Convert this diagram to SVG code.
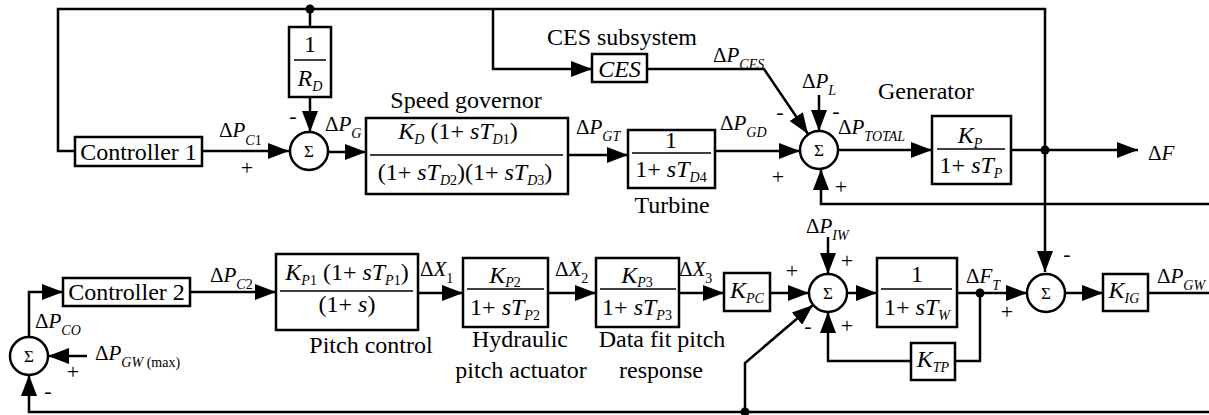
<svg xmlns="http://www.w3.org/2000/svg" width="1209" height="415" viewBox="0 0 1209 415" font-family="'Liberation Serif', 'DejaVu Serif', serif">
<style>
.ln{fill:none;stroke:#000;stroke-width:2.5}
.bx{fill:#fff;stroke:#000;stroke-width:2.5}
.fr{stroke:#000;stroke-width:1.5}
.t{font-family:'Liberation Serif','DejaVu Serif',serif;font-size:24px;fill:#000}
.lb{font-family:'Liberation Serif','DejaVu Serif',serif;font-size:21px;fill:#000}
.i{font-style:italic}
.s{font-size:14px;font-style:italic}
.sr{font-size:14px;font-style:normal}
.sg{font-family:'Liberation Serif','DejaVu Serif',serif;font-size:17px;fill:#000}
.pm{font-family:'Liberation Serif','DejaVu Serif',serif;font-size:22px;fill:#000}
</style>
<defs>
<marker id="ar" markerWidth="21" markerHeight="16" refX="21" refY="8" orient="auto" markerUnits="userSpaceOnUse"><path d="M0,0 L21,8 L0,16 z" fill="#000"/></marker>
</defs>

<g id="connectors">
<path class="ln" d="M1045,150 V9 H58 V151 H75"/>
<path class="ln" d="M1045,150 V272" marker-end="url(#ar)"/>
<path class="ln" d="M310,9 V27"/>
<path class="ln" d="M310,97 V132" marker-end="url(#ar)"/>
<path class="ln" d="M202,151 H289" marker-end="url(#ar)"/>
<path class="ln" d="M328,152 H366" marker-end="url(#ar)"/>
<path class="ln" d="M568,155 H628" marker-end="url(#ar)"/>
<path class="ln" d="M715,151 H800" marker-end="url(#ar)"/>
<path class="ln" d="M493,9 V69 H592" marker-end="url(#ar)"/>
<path class="ln" d="M647,69 H764 L808,134" marker-end="url(#ar)"/>
<path class="ln" d="M819,95 V131" marker-end="url(#ar)"/>
<path class="ln" d="M838,150 H932" marker-end="url(#ar)"/>
<path class="ln" d="M1011,150 H1138" marker-end="url(#ar)"/>
<path class="ln" d="M1209,204 H821 V169" marker-end="url(#ar)"/>
<path class="ln" d="M1065,293 H1103" marker-end="url(#ar)"/>
<path class="ln" d="M1148,293 H1209"/>
<path class="ln" d="M828,237 V274" marker-end="url(#ar)"/>
<path class="ln" d="M847,293 H877" marker-end="url(#ar)"/>
<path class="ln" d="M957,293 H1027" marker-end="url(#ar)"/>
<path class="ln" d="M980,293 V361 H955"/>
<path class="ln" d="M911,361 H828 V312" marker-end="url(#ar)"/>
<path class="ln" d="M770,293 H809" marker-end="url(#ar)"/>
<path class="ln" d="M745,412 V363 L813,305" marker-end="url(#ar)"/>
<path class="ln" d="M679,293 H724" marker-end="url(#ar)"/>
<path class="ln" d="M548,293 H596" marker-end="url(#ar)"/>
<path class="ln" d="M418,293 H463" marker-end="url(#ar)"/>
<path class="ln" d="M190,292 H276" marker-end="url(#ar)"/>
<path class="ln" d="M29,337 V292 H63" marker-end="url(#ar)"/>
<path class="ln" d="M87,356 H48" marker-end="url(#ar)"/>
<path class="ln" d="M1209,412 H29 V375" marker-end="url(#ar)"/>
<circle cx="310" cy="9" r="4.5"/>
<circle cx="1045" cy="150" r="4.5"/>
<circle cx="980" cy="293" r="4.5"/>
<circle cx="745" cy="412" r="4.5"/>
</g>

<g id="controller1">
<rect class="bx" x="75" y="137" width="127" height="29"/>
<text class="t" x="138.5" y="160" text-anchor="middle">Controller 1</text>
</g>

<g id="sum1">
<circle class="bx" cx="309" cy="151" r="19"/>
<text class="sg" x="309" y="157" text-anchor="middle">Σ</text>
</g>

<g id="rd">
<rect class="bx" x="289" y="27" width="42" height="70"/>
<line class="fr" x1="294" y1="60" x2="326" y2="60"/>
<text class="t" x="310" y="52" text-anchor="middle">1</text>
<text class="t" x="310" y="86" text-anchor="middle"><tspan class="i">R</tspan><tspan class="s" dy="5">D</tspan></text>
</g>

<g id="governor">
<text class="t" x="466" y="108" text-anchor="middle">Speed governor</text>
<rect class="bx" x="366" y="118" width="202" height="76"/>
<line class="fr" x1="370" y1="155" x2="563" y2="155"/>
<text class="t" x="458" y="139" text-anchor="middle"><tspan class="i">K</tspan><tspan class="s" dy="5">D</tspan><tspan dy="-5"> (1+ </tspan><tspan class="i">sT</tspan><tspan class="s" dy="5">D</tspan><tspan class="sr">1</tspan><tspan dy="-5">)</tspan></text>
<text class="t" x="465" y="180" text-anchor="middle">(1+ <tspan class="i">sT</tspan><tspan class="s" dy="5">D</tspan><tspan class="sr">2</tspan><tspan dy="-5">)(1+ </tspan><tspan class="i">sT</tspan><tspan class="s" dy="5">D</tspan><tspan class="sr">3</tspan><tspan dy="-5">)</tspan></text>
</g>

<g id="turbine">
<rect class="bx" x="628" y="130" width="87" height="58"/>
<line class="fr" x1="632" y1="153" x2="711" y2="153"/>
<text class="t" x="671" y="148" text-anchor="middle">1</text>
<text class="t" x="671" y="177" text-anchor="middle">1+ <tspan class="i">sT</tspan><tspan class="s" dy="5">D</tspan><tspan class="sr">4</tspan></text>
<text class="t" x="672" y="213" text-anchor="middle">Turbine</text>
</g>

<g id="ces">
<text class="t" x="622" y="45" text-anchor="middle">CES subsystem</text>
<rect class="bx" x="592" y="54" width="55" height="28"/>
<text class="t i" x="619.5" y="77" text-anchor="middle">CES</text>
</g>

<g id="sum-top">
<circle class="bx" cx="819" cy="150" r="19"/>
<text class="sg" x="819" y="156" text-anchor="middle">Σ</text>
</g>

<g id="generator">
<text class="t" x="926" y="99" text-anchor="middle">Generator</text>
<rect class="bx" x="932" y="116" width="79" height="68"/>
<line class="fr" x1="937" y1="149" x2="1005" y2="149"/>
<text class="t" x="970" y="143" text-anchor="middle"><tspan class="i">K</tspan><tspan class="s" dy="5">P</tspan></text>
<text class="t" x="971" y="173" text-anchor="middle">1+ <tspan class="i">sT</tspan><tspan class="s" dy="5">P</tspan></text>
</g>

<g id="sum2">
<circle class="bx" cx="1046" cy="293" r="19"/>
<text class="sg" x="1046" y="299" text-anchor="middle">Σ</text>
</g>

<g id="kig">
<rect class="bx" x="1103" y="274" width="45" height="37"/>
<text class="t" x="1124" y="298" text-anchor="middle"><tspan class="i">K</tspan><tspan class="s" dy="5">IG</tspan></text>
</g>

<g id="sum-w">
<circle class="bx" cx="828" cy="293" r="19"/>
<text class="sg" x="828" y="299" text-anchor="middle">Σ</text>
</g>

<g id="wind">
<rect class="bx" x="877" y="258" width="80" height="69"/>
<line class="fr" x1="881" y1="289" x2="952" y2="289"/>
<text class="t" x="917" y="282" text-anchor="middle">1</text>
<text class="t" x="917" y="315" text-anchor="middle">1+ <tspan class="i">sT</tspan><tspan class="s" dy="5">W</tspan></text>
</g>

<g id="ktp">
<rect class="bx" x="911" y="343" width="44" height="37"/>
<text class="t" x="933" y="367" text-anchor="middle"><tspan class="i">K</tspan><tspan class="s" dy="5">TP</tspan></text>
</g>

<g id="kpc">
<rect class="bx" x="724" y="273" width="46" height="38"/>
<text class="t" x="747" y="298" text-anchor="middle"><tspan class="i">K</tspan><tspan class="s" dy="5">PC</tspan></text>
</g>

<g id="datafit">
<rect class="bx" x="596" y="258" width="83" height="69"/>
<line class="fr" x1="600" y1="289" x2="676" y2="289"/>
<text class="t" x="637" y="283" text-anchor="middle"><tspan class="i">K</tspan><tspan class="s" dy="4">P</tspan><tspan class="sr">3</tspan></text>
<text class="t" x="637" y="315" text-anchor="middle">1+ <tspan class="i">sT</tspan><tspan class="s" dy="5">P</tspan><tspan class="sr">3</tspan></text>
<text class="t" x="662" y="347" text-anchor="middle">Data fit pitch</text>
<text class="t" x="661" y="378" text-anchor="middle">response</text>
</g>

<g id="hydraulic">
<rect class="bx" x="463" y="258" width="85" height="69"/>
<line class="fr" x1="467" y1="289" x2="544" y2="289"/>
<text class="t" x="505" y="283" text-anchor="middle"><tspan class="i">K</tspan><tspan class="s" dy="4">P</tspan><tspan class="sr">2</tspan></text>
<text class="t" x="505" y="315" text-anchor="middle">1+ <tspan class="i">sT</tspan><tspan class="s" dy="5">P</tspan><tspan class="sr">2</tspan></text>
<text class="t" x="520" y="347" text-anchor="middle">Hydraulic</text>
<text class="t" x="521" y="378" text-anchor="middle">pitch actuator</text>
</g>

<g id="pitch">
<rect class="bx" x="276" y="254" width="142" height="76"/>
<line class="fr" x1="280" y1="291" x2="413" y2="291"/>
<text class="t" x="347" y="280" text-anchor="middle"><tspan class="i">K</tspan><tspan class="s" dy="5">P</tspan><tspan class="sr">1</tspan><tspan dy="-5"> (1+ </tspan><tspan class="i">sT</tspan><tspan class="s" dy="5">P</tspan><tspan class="sr">1</tspan><tspan dy="-5">)</tspan></text>
<text class="t" x="347" y="312" text-anchor="middle">(1+ <tspan class="i">s</tspan>)</text>
<text class="t" x="371" y="353" text-anchor="middle">Pitch control</text>
</g>

<g id="controller2">
<rect class="bx" x="63" y="278" width="127" height="28"/>
<text class="t" x="126.5" y="300" text-anchor="middle">Controller 2</text>
</g>

<g id="sum-co">
<circle class="bx" cx="29" cy="356" r="19"/>
<text class="sg" x="29" y="362" text-anchor="middle">Σ</text>
</g>

<g id="labels">
<text class="lb" x="219" y="137">Δ<tspan class="i">P</tspan><tspan class="s" dy="8">C</tspan><tspan class="sr">1</tspan></text>
<text class="lb" x="325" y="131">Δ<tspan class="i">P</tspan><tspan class="s" dy="7">G</tspan></text>
<text class="lb" x="576" y="134">Δ<tspan class="i">P</tspan><tspan class="s" dy="7">GT</tspan></text>
<text class="lb" x="720" y="130">Δ<tspan class="i">P</tspan><tspan class="s" dy="7">GD</tspan></text>
<text class="lb" x="713" y="62">Δ<tspan class="i">P</tspan><tspan class="s" dy="7">CES</tspan></text>
<text class="lb" x="802" y="88">Δ<tspan class="i">P</tspan><tspan class="s" dy="7">L</tspan></text>
<text class="lb" x="838" y="134">Δ<tspan class="i">P</tspan><tspan class="s" dy="7">TOTAL</tspan></text>
<text class="lb" x="1148" y="160">Δ<tspan class="i">F</tspan></text>
<text class="lb" x="806" y="233">Δ<tspan class="i">P</tspan><tspan class="s" dy="7">IW</tspan></text>
<text class="lb" x="966" y="283">Δ<tspan class="i">F</tspan><tspan class="s" dy="7">T</tspan></text>
<text class="lb" x="1157" y="283">Δ<tspan class="i">P</tspan><tspan class="s" dy="7">GW</tspan></text>
<text class="lb" x="420" y="276">Δ<tspan class="i">X</tspan><tspan class="sr" dy="7">1</tspan></text>
<text class="lb" x="555" y="276">Δ<tspan class="i">X</tspan><tspan class="sr" dy="7">2</tspan></text>
<text class="lb" x="679" y="276">Δ<tspan class="i">X</tspan><tspan class="sr" dy="7">3</tspan></text>
<text class="lb" x="210" y="282">Δ<tspan class="i">P</tspan><tspan class="s" dy="7">C</tspan><tspan class="sr">2</tspan></text>
<text class="lb" x="35" y="328">Δ<tspan class="i">P</tspan><tspan class="s" dy="7">CO</tspan></text>
<text class="lb" x="95" y="360">Δ<tspan class="i">P</tspan><tspan class="s" dy="7">GW</tspan><tspan class="sr"> (max)</tspan></text>
</g>

<g id="signs">
<text class="pm" x="247" y="175" text-anchor="middle">+</text>
<text class="pm" x="293" y="123" text-anchor="middle">-</text>
<text class="pm" x="780" y="119" text-anchor="middle">-</text>
<text class="pm" x="778" y="184" text-anchor="middle">+</text>
<text class="pm" x="836" y="118" text-anchor="middle">-</text>
<text class="pm" x="841" y="194" text-anchor="middle">+</text>
<text class="pm" x="1067" y="261" text-anchor="middle">-</text>
<text class="pm" x="847" y="268" text-anchor="middle">+</text>
<text class="pm" x="847" y="333" text-anchor="middle">+</text>
<text class="pm" x="808" y="333" text-anchor="middle">-</text>
<text class="pm" x="792" y="278" text-anchor="middle">+</text>
<text class="pm" x="1007" y="319" text-anchor="middle">+</text>
<text class="pm" x="73" y="379" text-anchor="middle">+</text>
<text class="pm" x="48" y="398" text-anchor="middle">-</text>
</g>
</svg>
